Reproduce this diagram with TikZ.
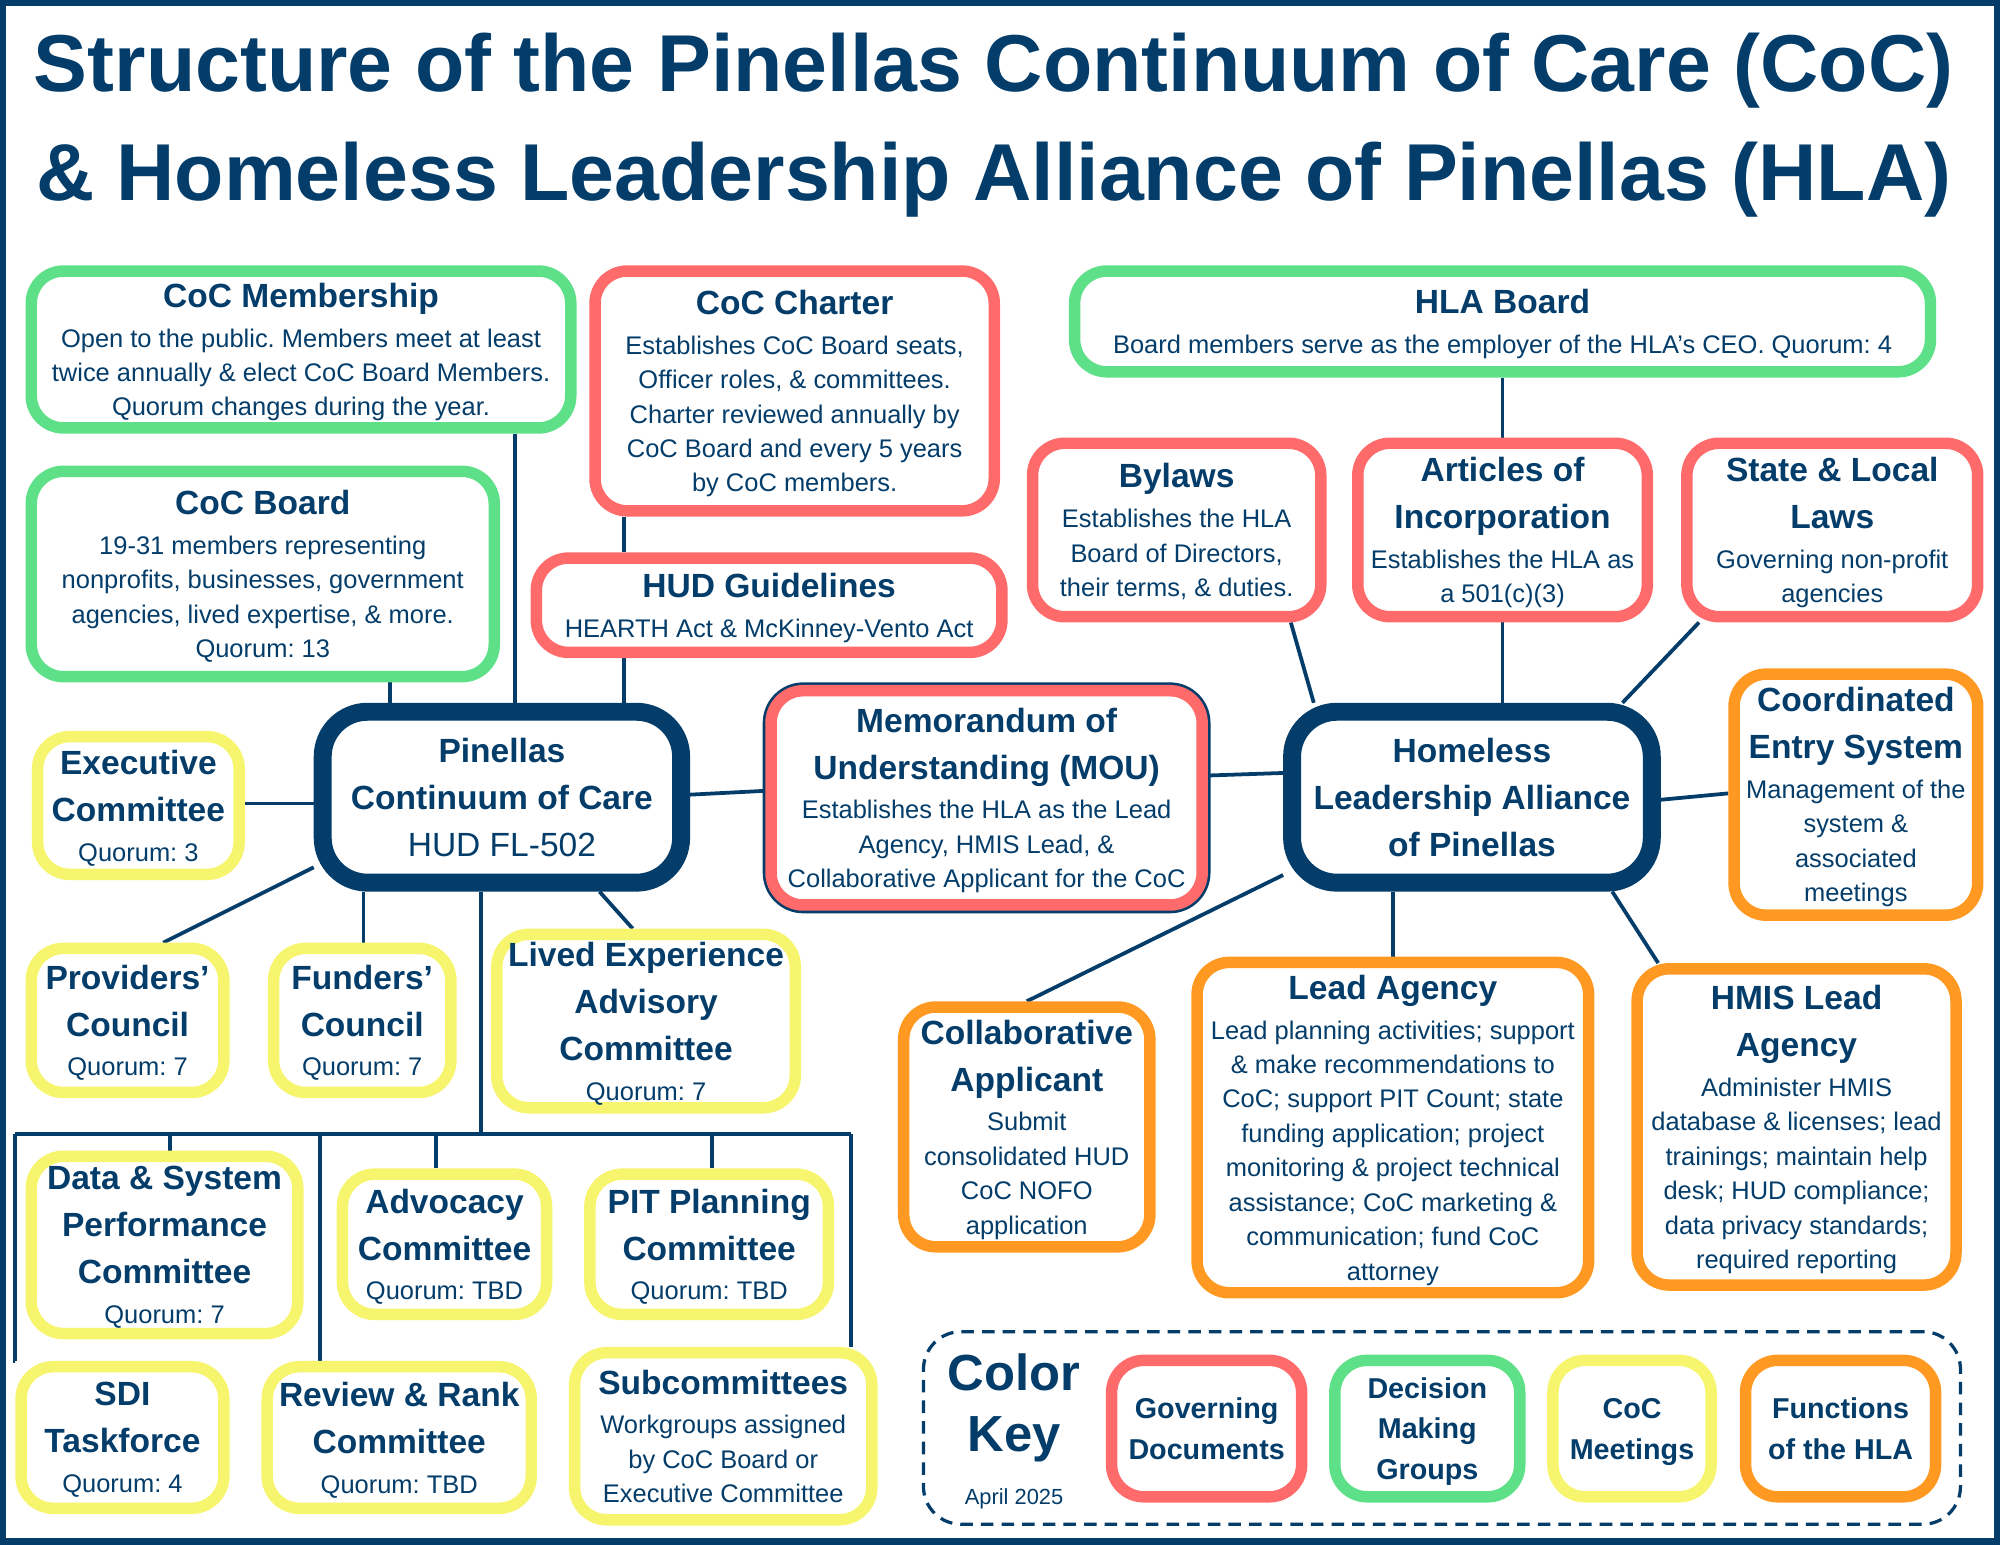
\documentclass[tikz,border=0pt]{standalone}
\usepackage{fontspec}
\setmainfont{Liberation Sans}
\frenchspacing
\definecolor{navy}{RGB}{4,61,106}
\definecolor{docred}{RGB}{255,107,107}
\definecolor{grpgreen}{RGB}{94,224,136}
\definecolor{meetyellow}{RGB}{247,245,110}
\definecolor{hlaorange}{RGB}{255,153,34}
\pgfdeclarelayer{bg}
\pgfsetlayers{bg,main}
\tikzset{
  bw/.style={minimum width=#1*0.025cm},
  bh/.style={minimum height=#1*0.025cm},
  box/.style={draw, fill=white, line width=6.4pt, rounded corners=18pt, align=center,
    text=navy, inner sep=0pt, font=\fontsize{14.2}{19.2}\selectfont, text depth=-3pt},
  docbox/.style={box, draw=docred},
  grpbox/.style={box, draw=grpgreen},
  meetbox/.style={box, draw=meetyellow},
  hlabox/.style={box, draw=hlaorange},
  mainbox/.style={box, draw=navy, line width=10pt, rounded corners=25pt, text depth=0pt},
  keybox/.style={font=\fontsize{16}{22.8}\selectfont\bfseries, text depth=0pt},
  link/.style={draw=navy, line width=2.1pt},
}
\newcommand{\hd}[1]{{\fontsize{18.7}{26}\selectfont\bfseries #1}}
\begin{document}
\begin{tikzpicture}[x=0.025cm, y=-0.025cm]
\useasboundingbox (0,0) rectangle (1568,1211);

% title
\node[text=navy, font=\fontsize{45}{61}\selectfont\bfseries, align=center] (title) at (779,98)
  {Structure of the Pinellas Continuum of Care (CoC)\\ \& Homeless Leadership Alliance of Pinellas (HLA)};

% CoC side
\node[grpbox, bw=423, bh=123] (memb) at (236,274) {\hd{CoC Membership}\\[3pt]
  Open to the public. Members meet at least\\ twice annually \& elect CoC Board Members.\\ Quorum changes during the year.};
\node[grpbox, bw=363, bh=161] (board) at (206,450) {\hd{CoC Board}\\[3pt]
  19-31 members representing\\ nonprofits, businesses, government\\ agencies, lived expertise, \& more.\\ Quorum: 13};
\node[docbox, bw=313, bh=188] (charter) at (623,306.5) {\hd{CoC Charter}\\[3pt]
  Establishes CoC Board seats,\\ Officer roles, \& committees.\\ Charter reviewed annually by\\ CoC Board and every 5 years\\ by CoC members.};
\node[docbox, bw=365, bh=74] (hud) at (603,474.5) {\hd{HUD Guidelines}\\[3pt] HEARTH Act \& McKinney-Vento Act};
\node[mainbox, bw=281, bh=134] (coc) at (393.5,625) {\hd{Pinellas}\\[7pt] \hd{Continuum of Care}\\[7pt]
  {\fontsize{18.7}{26}\selectfont HUD FL-502}};
\node[meetbox, bw=158, bh=108] (exec) at (108.5,631.5) {\hd{Executive}\\[7pt] \hd{Committee}\\[3pt] Quorum: 3};
\node[meetbox, bw=151, bh=113] (prov) at (100,800) {\hd{Providers’}\\[7pt] \hd{Council}\\[3pt] Quorum: 7};
\node[meetbox, bw=139, bh=113] (fund) at (284,800) {\hd{Funders’}\\[7pt] \hd{Council}\\[3pt] Quorum: 7};
\node[meetbox, bw=234, bh=136] (lived) at (506.5,800.5) {\hd{Lived Experience}\\[7pt] \hd{Advisory}\\[7pt] \hd{Committee}\\[3pt] Quorum: 7};
\node[meetbox, bw=209, bh=139] (data) at (129,976) {\hd{Data \& System}\\[7pt] \hd{Performance}\\[7pt] \hd{Committee}\\[3pt] Quorum: 7};
\node[meetbox, bw=160, bh=110] (adv) at (348.5,975.5) {\hd{Advocacy}\\[7pt] \hd{Committee}\\[3pt] Quorum: TBD};
\node[meetbox, bw=187, bh=110] (pit) at (556,975.5) {\hd{PIT Planning}\\[7pt] \hd{Committee}\\[3pt] Quorum: TBD};
\node[meetbox, bw=159, bh=111] (sdi) at (96,1127) {\hd{SDI}\\[7pt] \hd{Taskforce}\\[3pt] Quorum: 4};
\node[meetbox, bw=207, bh=111] (rank) at (313,1127) {\hd{Review \& Rank}\\[7pt] \hd{Committee}\\[3pt] Quorum: TBD};
\node[meetbox, bw=233, bh=131] (subc) at (567,1126) {\hd{Subcommittees}\\[3pt]
  Workgroups assigned\\ by CoC Board or\\ Executive Committee};

% MOU
\node[docbox, preaction={draw=navy, line width=9.3pt}, bw=338, bh=168] (mou) at (773.5,625.5)
  {\hd{Memorandum of}\\[7pt] \hd{Understanding (MOU)}\\[3pt]
  Establishes the HLA as the Lead\\ Agency, HMIS Lead, \&\\ Collaborative Applicant for the CoC};

% HLA side
\node[grpbox, bw=671, bh=79] (hlab) at (1178,252) {\hd{HLA Board}\\[3pt]
  Board members serve as the employer of the HLA’s CEO. Quorum: 4};
\node[docbox, bw=226, bh=136] (bylaws) at (922.5,415.5) {\hd{Bylaws}\\[3pt]
  Establishes the HLA\\ Board of Directors,\\ their terms, \& duties.};
\node[docbox, bw=227, bh=136] (articles) at (1178,415.5) {\hd{Articles of}\\[7pt] \hd{Incorporation}\\[3pt]
  Establishes the HLA as\\ a 501(c)(3)};
\node[docbox, bw=228, bh=136] (laws) at (1436.5,415.5) {\hd{State \& Local}\\[7pt] \hd{Laws}\\[3pt]
  Governing non-profit\\ agencies};
\node[mainbox, bw=282, bh=134] (hla) at (1154,625) {\hd{Homeless}\\[7pt] \hd{Leadership Alliance}\\[7pt] \hd{of Pinellas}};
\node[hlabox, bw=191, bh=189] (ces) at (1455,623) {\hd{Coordinated}\\[7pt] \hd{Entry System}\\[3pt]
  Management of the\\ system \&\\ associated\\ meetings};
\node[hlabox, bw=193, bh=188] (collab) at (805,883.5) {\hd{Collaborative}\\[7pt] \hd{Applicant}\\[3pt]
  Submit\\ consolidated HUD\\ CoC NOFO\\ application};
\node[hlabox, bw=307, bh=259] (lead) at (1092,884) {\hd{Lead Agency}\\[3pt]
  Lead planning activities; support\\ \& make recommendations to\\ CoC; support PIT Count; state\\
  funding application; project\\ monitoring \& project technical\\ assistance; CoC marketing \&\\
  communication; fund CoC\\ attorney};
\node[hlabox, bw=250, bh=248] (hmis) at (1408.5,883.5) {\hd{HMIS Lead}\\[7pt] \hd{Agency}\\[3pt]
  Administer HMIS\\ database \& licenses; lead\\ trainings; maintain help\\ desk; HUD compliance;\\
  data privacy standards;\\ required reporting};

% colour key
\node[draw=navy, line width=1.8pt, dash pattern=on 7pt off 4.5pt, rounded corners=21pt,
  bw=813, bh=151, inner sep=0pt] (key) at (1130.5,1119.5) {};
\node[text=navy, font=\fontsize{28.3}{34}\selectfont\bfseries, align=center] (keytitle) at (795,1104) {Color\\Key};
\node[text=navy, font=\fontsize{12.2}{14}\selectfont] (keydate) at (795,1175) {April 2025};
\node[docbox, keybox, bw=149, bh=107] (kgov) at (946,1120) {Governing\\Documents};
\node[grpbox, keybox, bw=145, bh=107] (kdec) at (1119,1120) {Decision\\Making\\Groups};
\node[meetbox, keybox, bw=124, bh=107] (kmeet) at (1279.5,1120) {CoC\\Meetings};
\node[hlabox, keybox, bw=149, bh=107] (kfun) at (1443,1120) {Functions\\of the HLA};

\begin{pgfonlayer}{bg}
\fill[white] (0,0) rectangle (1568,1211);
\draw[link] (404,0 |- memb.south) -- (404,0 |- coc.north);
\draw[link] (306,0 |- board.south) -- (306,0 |- coc.north);
\draw[link] (489,0 |- charter.south) -- (489,0 |- hud.north);
\draw[link] (489,0 |- hud.south) -- (489,0 |- coc.north);
\draw[link] (exec.east |- 0,630) -- (coc.west |- 0,630);
\draw[link] (coc.east |- 0,623) -- (mou.west |- 0,620);
\draw[link] (mou.east |- 0,608) -- (hla.west |- 0,606);
\draw[link] (hlab.south) -- (articles.north);
\draw[link] (articles.south) -- (1178,0 |- hla.north);
\draw[link] (1012,0 |- bylaws.south) -- (1030,0 |- hla.north);
\draw[link] (1332,0 |- laws.south) -- (1272,0 |- hla.north);
\draw[link] (hla.east |- 0,627) -- (ces.west |- 0,622);
\draw[link] (hla.west |- 0,686) -- (collab.north);
\draw[link] (1092,0 |- hla.south) -- (lead.north);
\draw[link] (1264,0 |- hla.south) -- (1300,0 |- hmis.north);
\draw[link] (coc.west |- 0,680) -- (128,0 |- prov.north);
\draw[link] (285,0 |- coc.south) -- (285,0 |- fund.north);
\draw[link] (470,0 |- coc.south) -- (496,0 |- lived.north);
% committee bus
\coordinate (busL) at (12,889);
\coordinate (busR) at (667,889);
\draw[link] (377,0 |- coc.south) -- (377,0 |- busL);
\draw[link] (busL) -- (busR);
\draw[link] (133,0 |- busL) -- (133,0 |- data.north);
\draw[link] (342,0 |- busL) -- (342,0 |- adv.north);
\draw[link] (558,0 |- busL) -- (558,0 |- pit.north);
\draw[link] (251,0 |- busL) -- (251,0 |- rank.north);
\draw[link] (busR) -- (busR |- subc.north);
\draw[link] (busL) -- (busL |- sdi.north) -- (sdi.north west);
\end{pgfonlayer}

% frame
\draw[navy, line width=3.6pt] (2.5,2.5) rectangle (1565.5,1208.5);
\end{tikzpicture}
\end{document}
